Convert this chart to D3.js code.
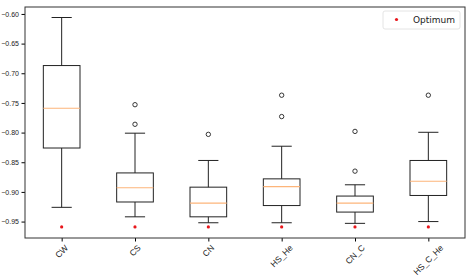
<!DOCTYPE html>
<html>
<head>
<meta charset="utf-8">
<script src="https://cdn.jsdelivr.net/npm/d3@7"></script>
<style>
  body { margin: 0; background: #fff; }
  svg { font-family: "DejaVu Sans", sans-serif; }
</style>
</head>
<body>
<div id="chart"></div>
<script>
// box stats
const CATEGORIES = ['CW', 'CS', 'CN', 'HS_He', 'CN_C', 'HS_C_He'];
const WHISKER_LOW = [-0.926, -0.942, -0.952, -0.952, -0.953, -0.950];
const Q1 = [-0.826, -0.917, -0.942, -0.923, -0.934, -0.906];
const MEDIAN = [-0.759, -0.893, -0.919, -0.891, -0.919, -0.882];
const Q3 = [-0.687, -0.868, -0.892, -0.878, -0.907, -0.847];
const WHISKER_HIGH = [-0.606, -0.801, -0.847, -0.823, -0.888, -0.7995];
const OUTLIERS = [[], [-0.753, -0.786], [-0.803], [-0.737, -0.773], [-0.798, -0.865], [-0.737]];
const OPTIMUM = [-0.959, -0.959, -0.959, -0.959, -0.959, -0.959];
const Y_TICKS = [-0.60, -0.65, -0.70, -0.75, -0.80, -0.85, -0.90, -0.95];

const W = 469, H = 277;
const margin = {top: 7, right: 4, bottom: 39, left: 25};
const X_FONT = 8.5;

const svg = d3.select('#chart').append('svg')
    .attr('width', W)
    .attr('height', H);

const x = d3.scaleLinear()
    .domain([0.5, CATEGORIES.length + 0.5])
    .range([margin.left, W - margin.right]);
const y = d3.scaleLinear()
    .domain([-0.9777, -0.5883])
    .range([H - margin.bottom, margin.top]);

const step = x(2) - x(1);
const boxW = step * 0.5;
const capW = boxW * 0.55;

// y axis
const yAxis = svg.append('g')
    .attr('transform', `translate(${margin.left},0)`)
    .call(d3.axisLeft(y).tickValues(Y_TICKS).tickFormat(d3.format('.2f')).tickSize(3.5).tickPadding(2.5));
yAxis.select('.domain').remove();
yAxis.selectAll('text').style('font-size', '7px').attr('fill', '#222');

// x axis, labels rotated 45deg and hung below the tick
const xAxis = svg.append('g')
    .attr('transform', `translate(0,${H - margin.bottom})`)
    .call(d3.axisBottom(x).tickValues(d3.range(1, CATEGORIES.length + 1)).tickSize(3.5).tickFormat(i => CATEGORIES[i - 1]));
xAxis.select('.domain').remove();
xAxis.selectAll('text')
    .style('font-size', X_FONT + 'px')
    .attr('fill', '#222')
    .attr('text-anchor', 'middle')
    .attr('dy', null)
    .attr('y', null)
    .attr('dominant-baseline', 'middle')
    .attr('transform', function() {
        const len = this.getComputedTextLength();
        const off = 6.5 + (len + X_FONT * 0.8) * 0.3535;
        return `translate(0,${off}) rotate(-45)`;
    });

// boxes
const g = svg.append('g');
CATEGORIES.forEach((c, i) => {
    const cx = x(i + 1);
    const b = g.append('g').attr('stroke', '#222').attr('stroke-width', 1).attr('fill', 'none');
    // whiskers
    b.append('line').attr('x1', cx).attr('x2', cx).attr('y1', y(Q3[i])).attr('y2', y(WHISKER_HIGH[i]));
    b.append('line').attr('x1', cx).attr('x2', cx).attr('y1', y(Q1[i])).attr('y2', y(WHISKER_LOW[i]));
    // caps
    b.append('line').attr('x1', cx - capW / 2).attr('x2', cx + capW / 2).attr('y1', y(WHISKER_HIGH[i])).attr('y2', y(WHISKER_HIGH[i]));
    b.append('line').attr('x1', cx - capW / 2).attr('x2', cx + capW / 2).attr('y1', y(WHISKER_LOW[i])).attr('y2', y(WHISKER_LOW[i]));
    // box
    b.append('rect')
        .attr('x', cx - boxW / 2)
        .attr('y', y(Q3[i]))
        .attr('width', boxW)
        .attr('height', y(Q1[i]) - y(Q3[i]));
    // median
    g.append('line')
        .attr('x1', cx - boxW / 2).attr('x2', cx + boxW / 2)
        .attr('y1', y(MEDIAN[i])).attr('y2', y(MEDIAN[i]))
        .attr('stroke', '#fdb57a').attr('stroke-width', 1.2);
    // outliers
    g.selectAll(null).data(OUTLIERS[i]).join('circle')
        .attr('cx', cx).attr('cy', d => y(d)).attr('r', 2.2)
        .attr('fill', 'none').attr('stroke', '#222').attr('stroke-width', 0.9);
    // optimum
    g.append('circle')
        .attr('cx', cx).attr('cy', y(OPTIMUM[i])).attr('r', 1.6)
        .attr('fill', '#e8161b');
});

// frame
svg.append('rect')
    .attr('x', margin.left).attr('y', margin.top)
    .attr('width', W - margin.left - margin.right)
    .attr('height', H - margin.top - margin.bottom)
    .attr('fill', 'none').attr('stroke', '#333').attr('stroke-width', 1);

// legend
const lg = svg.append('g').attr('transform', 'translate(383,11)');
lg.append('rect').attr('width', 77).attr('height', 18).attr('rx', 2)
    .attr('fill', '#fff').attr('stroke', '#ddd').attr('stroke-width', 0.8);
lg.append('circle').attr('cx', 13.5).attr('cy', 8.5).attr('r', 1.6).attr('fill', '#e8161b');
lg.append('text').attr('x', 30).attr('y', 12.2).style('font-size', '9px').attr('fill', '#222').text('Optimum');
</script>
</body>
</html>
